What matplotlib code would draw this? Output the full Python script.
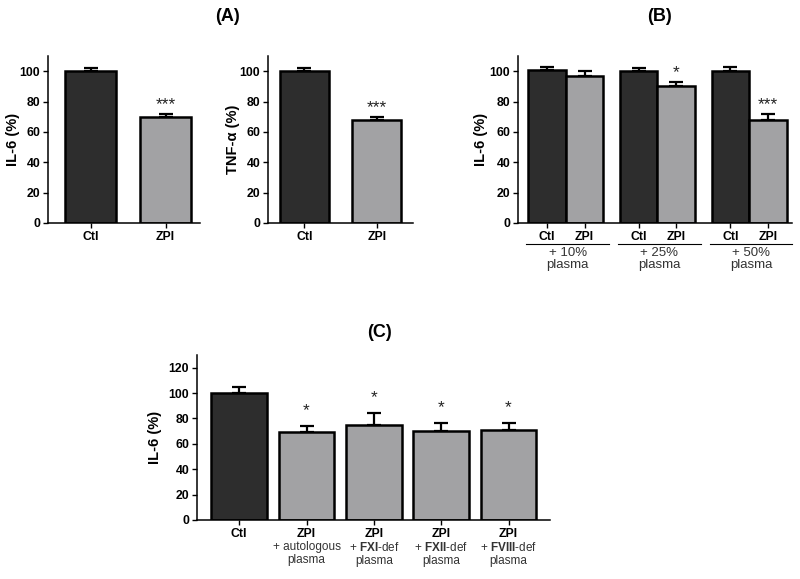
import numpy as np
import matplotlib
matplotlib.use('Agg')
import matplotlib.pyplot as plt

plt.rcParams['font.family'] = ['Liberation Sans', 'DejaVu Sans']
plt.rcParams['mathtext.fontset'] = 'custom'
plt.rcParams['mathtext.bf'] = 'Liberation Sans:bold'
plt.rcParams['mathtext.rm'] = 'Liberation Sans'

# ---- data ----
# panel A
a_groups = ['Ctl', 'ZPI']
a_il6 = [100, 70]
a_il6_err = [2, 2]
a_tnf = [100, 68]
a_tnf_err = [2, 2]
a_stars = ['', '***']

# panel B (IL-6 with plasma)
b_groups = ['+ 10%\nplasma', '+ 25%\nplasma', '+ 50%\nplasma']
b_ctl = [101, 100, 100]
b_ctl_err = [2, 2, 3]
b_zpi = [97, 90, 68]
b_zpi_err = [3, 3, 4]
b_stars = ['', '*', '***']

# panel C
c_labels = ['Ctl', 'ZPI', 'ZPI', 'ZPI', 'ZPI']
c_sub = ['', '+ autologous\nplasma', r'+ $\bf{FXI}$-def' + '\nplasma',
         r'+ $\bf{FXII}$-def' + '\nplasma', r'+ $\bf{FVIII}$-def' + '\nplasma']
c_vals = [100, 69, 75, 70, 71]
c_err = [5, 5, 9.5, 6.5, 5.5]
c_stars = ['', '*', '*', '*', '*']

dark = '#2d2d2d'
light = '#a2a2a4'
fs = 8.8

def style(ax, ymax, yticks):
    for s in ['top', 'right']:
        ax.spines[s].set_visible(False)
    ax.spines['left'].set_linewidth(1.1)
    ax.spines['bottom'].set_linewidth(1.1)
    ax.set_ylim(0, ymax)
    ax.set_yticks(yticks)
    ax.tick_params(axis='both', length=3.5, width=1.0, labelsize=fs, pad=2)
    for t in ax.get_yticklabels() + ax.get_xticklabels():
        t.set_fontweight('bold')

def bars(ax, x, h, err, cols, w):
    ax.bar(x, h, width=w, color=cols, edgecolor='k', linewidth=1.8, zorder=2)
    ax.errorbar(x, h, yerr=[np.zeros(len(h)), err], fmt='none', ecolor='k',
                elinewidth=1.6, capsize=5, capthick=1.6, zorder=1)

def stars(ax, x, h, err, st, dy):
    for xi, hi, ei, s in zip(x, h, err, st):
        if s:
            ax.text(xi, hi + ei + dy, s, ha='center', va='center', fontsize=12.5,
                    color='#222222')

def ylab(ax, txt, xpos):
    ax.set_ylabel(txt, fontsize=10.5, fontweight='bold', va='center')
    ax.yaxis.set_label_coords(xpos, 0.5)

fig = plt.figure(figsize=(8, 5.79), dpi=100)

# ---- A1: IL-6 ----
ax1 = fig.add_axes([0.06, 0.615, 0.19, 0.288])
x = np.arange(2)
bars(ax1, x, a_il6, a_il6_err, [dark, light], 0.68)
stars(ax1, x, a_il6, a_il6_err, a_stars, 6)
ax1.set_xlim(-0.567, 1.46)
ax1.set_xticks(x)
ax1.set_xticklabels(a_groups)
style(ax1, 110, np.arange(0, 101, 20))
ylab(ax1, 'IL-6 (%)', -0.23)

# ---- A2: TNF-alpha ----
ax2 = fig.add_axes([0.335, 0.615, 0.181, 0.288])
bars(ax2, x, a_tnf, a_tnf_err, [dark, light], 0.68)
stars(ax2, x, a_tnf, a_tnf_err, a_stars, 6)
ax2.set_xlim(-0.503, 1.497)
ax2.set_xticks(x)
ax2.set_xticklabels(a_groups)
style(ax2, 110, np.arange(0, 101, 20))
ylab(ax2, 'TNF-α (%)', -0.24)

fig.text(0.284, 0.972, '(A)', ha='center', va='center', fontsize=13, fontweight='bold')

# ---- B ----
ax3 = fig.add_axes([0.6475, 0.615, 0.3425, 0.288])
off = np.arange(len(b_groups)) * 2.44
bars(ax3, off, b_ctl, b_ctl_err, dark, 1.0)
bars(ax3, off + 1, b_zpi, b_zpi_err, light, 1.0)
stars(ax3, off + 1, b_zpi, b_zpi_err, b_stars, 6)
ax3.set_xlim(-0.77, 6.52)
xt = np.sort(np.concatenate([off, off + 1]))
ax3.set_xticks(xt)
ax3.set_xticklabels(['Ctl', 'ZPI'] * len(b_groups))
style(ax3, 110, np.arange(0, 101, 20))
ylab(ax3, 'IL-6 (%)', -0.135)
for o, g in zip(off, b_groups):
    ax3.plot([o - 0.55, o + 1.65], [-0.125, -0.125], color='k', lw=0.8,
             transform=ax3.get_xaxis_transform(), clip_on=False)
    ax3.text(o + 0.55, -0.145, g, ha='center', va='top', fontsize=9.5,
             linespacing=1.0, color='#333333', transform=ax3.get_xaxis_transform())

fig.text(0.825, 0.972, '(B)', ha='center', va='center', fontsize=13, fontweight='bold')

# ---- C ----
ax4 = fig.add_axes([0.246, 0.102, 0.441, 0.285])
xc = np.arange(len(c_vals))
bars(ax4, xc, c_vals, c_err, [dark] + [light] * 4, 0.83)
stars(ax4, xc, c_vals, c_err, c_stars, 12)
ax4.set_xlim(-0.63, 4.61)
ax4.set_xticks(xc)
ax4.set_xticklabels(c_labels)
style(ax4, 130, np.arange(0, 121, 20))
ylab(ax4, 'IL-6 (%)', -0.119)
for xi, s in zip(xc, c_sub):
    if s:
        ax4.text(xi, -0.13, s, ha='center', va='top', fontsize=8.5,
                 linespacing=1.05, color='#333333', transform=ax4.get_xaxis_transform())

fig.text(0.475, 0.425, '(C)', ha='center', va='center', fontsize=13, fontweight='bold')

fig.savefig('out.png', dpi=100)
